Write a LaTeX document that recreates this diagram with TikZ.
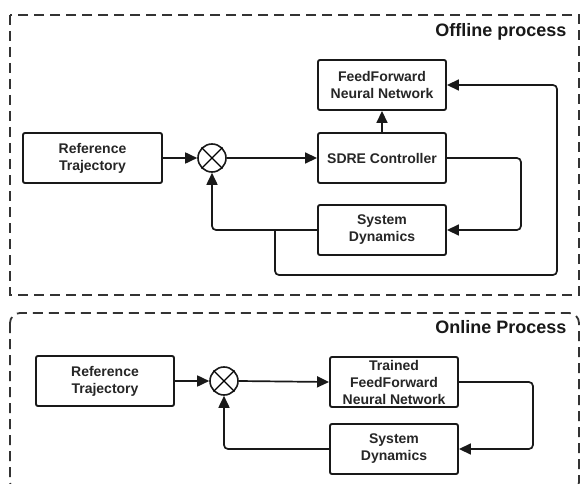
\documentclass[tikz,border=0pt]{standalone}
\usepackage{fontspec}
\setmainfont{Liberation Sans}
\usetikzlibrary{arrows.meta}
\begin{document}
\begin{tikzpicture}[x=1pt,y=-1pt,
  blk/.style={draw=black!90, line width=1.9pt, rounded corners=2pt, minimum width=128pt, minimum height=50pt, inner sep=0pt, align=center, font=\fontsize{14}{17}\selectfont\bfseries, text=black!85},
  sumj/.style={circle, draw=black!90, line width=1.6pt, minimum size=28pt, inner sep=0pt},
  conn/.style={draw=black!90, line width=1.7pt, rounded corners=4pt},
  arr/.style={-{Triangle[length=12pt,width=11pt]}},
  dbox/.style={draw=black!80, line width=1.8pt, dash pattern=on 10pt off 6pt},
  ttl/.style={anchor=base east, font=\fontsize{18}{21}\selectfont\bfseries, text=black!90}]
\fill[white] (0,0) rectangle (581,484);
\useasboundingbox (0,0) rectangle (581,484);
\clip (0,0) rectangle (581,484);

% frames
\draw[dbox] (10,15) rectangle (579,295);
\draw[dbox, rounded corners=10pt] (10,313) rectangle (579,492);
\node[ttl] (t1) at (570,37) {Offline process};
\node[ttl] (t2) at (570,333) {Online Process};

% offline nodes
\node[blk, minimum width=139pt] (ref1) at (92.5,158) {Reference\\Trajectory};
\node[sumj] (sum1) at (212,158) {};
\draw[line width=1.3pt] (sum1.north west) -- (sum1.south east) (sum1.north east) -- (sum1.south west);
\node[blk] (ffnn) at (382,85) {FeedForward\\Neural Network};
\node[blk] (sdre) at (382,158) {SDRE Controller};
\node[blk] (sd1) at (382,230) {System\\Dynamics};
\coordinate (br) at (275,230);

\draw[conn,arr] (ref1.east) -- (sum1.west);
\draw[conn,arr] (sum1.east) -- (sdre.west);
\draw[conn,arr] (sdre.north) -- (ffnn.south);
\draw[conn,arr] (sdre.east) -- ++(74,0) |- (sd1.east);
\draw[conn,arr] (sd1.west) -| (sum1.south);
\draw[conn,arr] (br) -- (275,275) -- (557,275) |- (ffnn.east);

% online nodes
\node[blk, minimum width=138pt] (ref2) at (105,381) {Reference\\Trajectory};
\node[sumj] (sum2) at (224,381) {};
\draw[line width=1.3pt] (sum2.north west) -- (sum2.south east) (sum2.north east) -- (sum2.south west);
\node[blk] (tffnn) at (394,382) {Trained\\FeedForward\\Neural Network};
\node[blk] (sd2) at (394,449) {System\\Dynamics};

\draw[conn,arr] (ref2.east) -- (sum2.west);
\draw[conn,arr] (sum2.east) -- (tffnn.west);
\draw[conn,arr] (tffnn.east) -- ++(74,0) |- (sd2.east);
\draw[conn,arr] (sd2.west) -| (sum2.south);
\end{tikzpicture}
\end{document}
